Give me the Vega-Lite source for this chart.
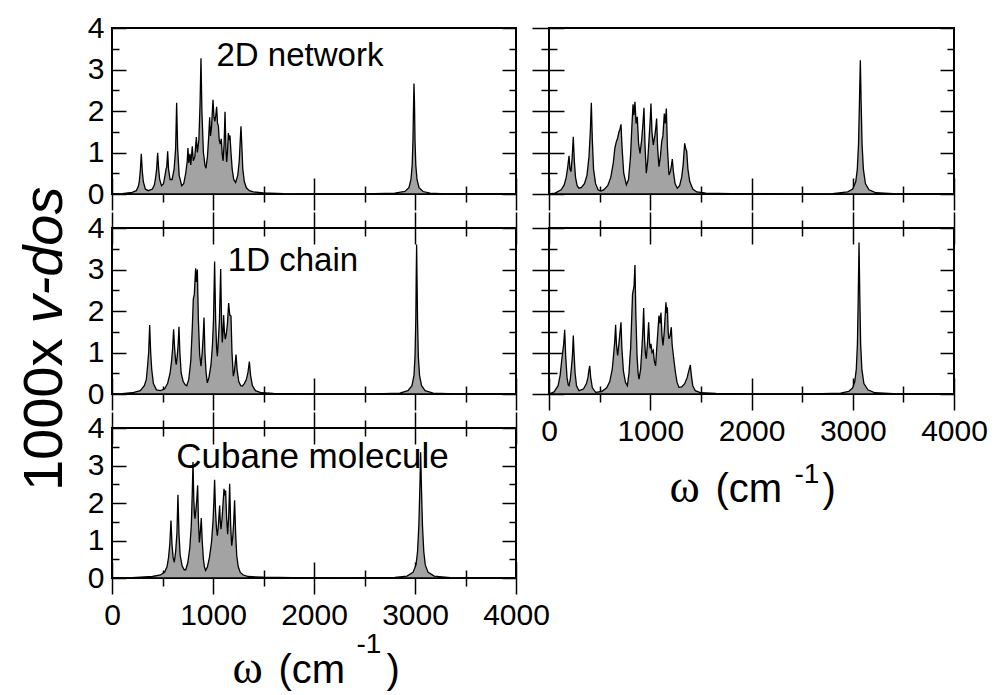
{
"$schema": "https://vega.github.io/schema/vega-lite/v6.json",
"padding": {"left": 14, "top": 12, "right": 0, "bottom": 0},
"background": "white",
"config": {
  "view": {"stroke": "black", "strokeWidth": 2},
  "axis": {"grid": false, "domain": false, "tickColor": "black", "tickWidth": 1.5, "labelColor": "black", "labelFont": "Liberation Sans", "labelFontSize": 30, "labelFlush": false, "labelOverlap": false, "format": "d", "titleColor": "black", "titleFontWeight": "normal", "titleFont": "Liberation Sans"}
},
"datasets": {
"a": [{"w":0,"d":0},{"w":100,"d":0.01},{"w":200,"d":0.04},{"w":240,"d":0.08},{"w":260,"d":0.18},{"w":270,"d":0.3},{"w":280,"d":0.55},{"w":290,"d":0.97},{"w":300,"d":0.55},{"w":310,"d":0.3},{"w":330,"d":0.12},{"w":360,"d":0.08},{"w":400,"d":0.12},{"w":420,"d":0.22},{"w":432,"d":0.4},{"w":442,"d":0.6},{"w":452,"d":0.99},{"w":462,"d":0.6},{"w":472,"d":0.35},{"w":490,"d":0.2},{"w":510,"d":0.25},{"w":525,"d":0.45},{"w":535,"d":0.6},{"w":542,"d":0.65},{"w":551,"d":1.03},{"w":560,"d":0.6},{"w":575,"d":0.35},{"w":595,"d":0.35},{"w":615,"d":0.6},{"w":630,"d":1.1},{"w":640,"d":2.2},{"w":650,"d":1.1},{"w":665,"d":0.45},{"w":690,"d":0.2},{"w":710,"d":0.25},{"w":730,"d":0.5},{"w":745,"d":0.8},{"w":752,"d":1.11},{"w":760,"d":0.75},{"w":772,"d":0.97},{"w":780,"d":0.7},{"w":795,"d":1.15},{"w":805,"d":0.8},{"w":820,"d":0.9},{"w":835,"d":1.37},{"w":845,"d":1.0},{"w":860,"d":1.3},{"w":872,"d":2.2},{"w":881,"d":3.27},{"w":890,"d":2.0},{"w":905,"d":1.0},{"w":920,"d":0.7},{"w":930,"d":0.62},{"w":945,"d":0.9},{"w":958,"d":1.4},{"w":967,"d":1.85},{"w":975,"d":1.4},{"w":985,"d":1.6},{"w":1000,"d":2.27},{"w":1010,"d":1.85},{"w":1018,"d":1.75},{"w":1028,"d":1.9},{"w":1036,"d":2.1},{"w":1045,"d":1.7},{"w":1053,"d":1.65},{"w":1062,"d":1.3},{"w":1072,"d":1.2},{"w":1082,"d":1.33},{"w":1092,"d":0.95},{"w":1100,"d":0.8},{"w":1110,"d":1.2},{"w":1119,"d":1.98},{"w":1128,"d":1.1},{"w":1135,"d":0.77},{"w":1143,"d":1.0},{"w":1152,"d":1.47},{"w":1160,"d":1.3},{"w":1168,"d":1.41},{"w":1178,"d":1.0},{"w":1190,"d":0.6},{"w":1205,"d":0.35},{"w":1224,"d":0.28},{"w":1245,"d":0.45},{"w":1260,"d":0.8},{"w":1270,"d":1.3},{"w":1277,"d":1.63},{"w":1285,"d":1.2},{"w":1295,"d":0.6},{"w":1310,"d":0.3},{"w":1330,"d":0.15},{"w":1360,"d":0.08},{"w":1400,"d":0.05},{"w":1500,"d":0.025},{"w":1700,"d":0.01},{"w":2000,"d":0.005},{"w":2500,"d":0.005},{"w":2800,"d":0.02},{"w":2900,"d":0.06},{"w":2940,"d":0.15},{"w":2960,"d":0.35},{"w":2972,"d":0.7},{"w":2980,"d":1.3},{"w":2986,"d":2.2},{"w":2990,"d":2.66},{"w":2995,"d":2.2},{"w":3000,"d":1.3},{"w":3008,"d":0.7},{"w":3020,"d":0.35},{"w":3040,"d":0.15},{"w":3080,"d":0.06},{"w":3150,"d":0.02},{"w":3300,"d":0.005},{"w":4000,"d":0}],
"b": [{"w":0,"d":0},{"w":100,"d":0.01},{"w":200,"d":0.03},{"w":280,"d":0.08},{"w":320,"d":0.2},{"w":340,"d":0.35},{"w":353,"d":0.7},{"w":363,"d":1.0},{"w":373,"d":1.66},{"w":383,"d":1.0},{"w":393,"d":0.6},{"w":410,"d":0.25},{"w":440,"d":0.1},{"w":480,"d":0.08},{"w":520,"d":0.12},{"w":550,"d":0.25},{"w":575,"d":0.5},{"w":590,"d":0.8},{"w":600,"d":1.1},{"w":610,"d":1.56},{"w":620,"d":1.1},{"w":630,"d":0.8},{"w":637,"d":0.71},{"w":647,"d":0.95},{"w":655,"d":1.2},{"w":663,"d":1.62},{"w":672,"d":1.0},{"w":685,"d":0.5},{"w":705,"d":0.3},{"w":725,"d":0.22},{"w":740,"d":0.2},{"w":760,"d":0.35},{"w":780,"d":0.8},{"w":795,"d":1.6},{"w":805,"d":2.29},{"w":815,"d":2.4},{"w":828,"d":3.03},{"w":836,"d":2.7},{"w":845,"d":3.0},{"w":855,"d":1.8},{"w":868,"d":0.95},{"w":881,"d":0.67},{"w":893,"d":1.0},{"w":903,"d":1.4},{"w":911,"d":1.84},{"w":920,"d":1.0},{"w":932,"d":0.5},{"w":944,"d":0.27},{"w":960,"d":0.4},{"w":980,"d":0.7},{"w":995,"d":1.2},{"w":1005,"d":1.8},{"w":1016,"d":3.19},{"w":1026,"d":1.8},{"w":1036,"d":1.1},{"w":1043,"d":0.91},{"w":1053,"d":1.3},{"w":1064,"d":1.8},{"w":1076,"d":3.01},{"w":1085,"d":1.7},{"w":1092,"d":1.24},{"w":1099,"d":1.5},{"w":1105,"d":1.9},{"w":1113,"d":1.5},{"w":1122,"d":1.32},{"w":1132,"d":1.45},{"w":1143,"d":1.7},{"w":1155,"d":2.19},{"w":1166,"d":1.9},{"w":1178,"d":1.88},{"w":1188,"d":1.0},{"w":1201,"d":0.43},{"w":1212,"d":0.55},{"w":1220,"d":0.75},{"w":1228,"d":0.95},{"w":1238,"d":0.6},{"w":1255,"d":0.3},{"w":1275,"d":0.2},{"w":1290,"d":0.19},{"w":1310,"d":0.25},{"w":1330,"d":0.35},{"w":1345,"d":0.5},{"w":1360,"d":0.78},{"w":1372,"d":0.45},{"w":1390,"d":0.2},{"w":1420,"d":0.08},{"w":1480,"d":0.03},{"w":1600,"d":0.015},{"w":2000,"d":0.005},{"w":2600,"d":0.005},{"w":2850,"d":0.02},{"w":2930,"d":0.08},{"w":2970,"d":0.2},{"w":2990,"d":0.45},{"w":3000,"d":0.9},{"w":3008,"d":1.8},{"w":3012,"d":2.8},{"w":3016,"d":3.6},{"w":3020,"d":2.8},{"w":3025,"d":1.8},{"w":3033,"d":0.9},{"w":3045,"d":0.45},{"w":3065,"d":0.2},{"w":3100,"d":0.08},{"w":3180,"d":0.02},{"w":3400,"d":0.005},{"w":4000,"d":0}],
"c": [{"w":0,"d":0},{"w":200,"d":0.01},{"w":400,"d":0.04},{"w":480,"d":0.08},{"w":520,"d":0.15},{"w":545,"d":0.3},{"w":560,"d":0.55},{"w":572,"d":0.9},{"w":584,"d":1.53},{"w":594,"d":0.9},{"w":605,"d":0.55},{"w":617,"d":0.42},{"w":630,"d":0.7},{"w":643,"d":1.2},{"w":653,"d":2.22},{"w":663,"d":1.2},{"w":675,"d":0.6},{"w":695,"d":0.32},{"w":715,"d":0.22},{"w":730,"d":0.22},{"w":750,"d":0.4},{"w":770,"d":0.8},{"w":785,"d":1.4},{"w":794,"d":2.2},{"w":802,"d":3.09},{"w":810,"d":2.1},{"w":816,"d":1.7},{"w":822,"d":1.58},{"w":830,"d":1.8},{"w":840,"d":2.1},{"w":848,"d":2.47},{"w":856,"d":1.5},{"w":865,"d":0.95},{"w":874,"d":1.2},{"w":884,"d":1.6},{"w":893,"d":1.0},{"w":905,"d":0.5},{"w":915,"d":0.3},{"w":927,"d":0.2},{"w":945,"d":0.3},{"w":965,"d":0.55},{"w":985,"d":0.95},{"w":1000,"d":1.5},{"w":1008,"d":2.0},{"w":1016,"d":2.62},{"w":1025,"d":1.8},{"w":1035,"d":1.3},{"w":1043,"d":1.13},{"w":1053,"d":1.4},{"w":1060,"d":1.7},{"w":1066,"d":1.93},{"w":1072,"d":1.5},{"w":1079,"d":1.3},{"w":1090,"d":1.6},{"w":1100,"d":2.0},{"w":1109,"d":2.38},{"w":1117,"d":2.2},{"w":1125,"d":2.33},{"w":1135,"d":1.6},{"w":1145,"d":1.17},{"w":1155,"d":1.6},{"w":1165,"d":2.51},{"w":1175,"d":1.4},{"w":1185,"d":0.86},{"w":1196,"d":1.1},{"w":1205,"d":1.5},{"w":1214,"d":2.07},{"w":1224,"d":1.2},{"w":1235,"d":0.6},{"w":1250,"d":0.3},{"w":1270,"d":0.15},{"w":1300,"d":0.08},{"w":1350,"d":0.04},{"w":1500,"d":0.02},{"w":1800,"d":0.008},{"w":2300,"d":0.005},{"w":2800,"d":0.015},{"w":2920,"d":0.05},{"w":2980,"d":0.15},{"w":3010,"d":0.35},{"w":3025,"d":0.7},{"w":3038,"d":1.4},{"w":3048,"d":2.4},{"w":3056,"d":3.35},{"w":3064,"d":2.4},{"w":3074,"d":1.4},{"w":3087,"d":0.7},{"w":3102,"d":0.35},{"w":3130,"d":0.15},{"w":3190,"d":0.05},{"w":3350,"d":0.01},{"w":4000,"d":0}],
"e": [{"w":0,"d":0},{"w":60,"d":0.02},{"w":120,"d":0.1},{"w":150,"d":0.22},{"w":170,"d":0.4},{"w":185,"d":0.65},{"w":198,"d":0.92},{"w":207,"d":0.6},{"w":217,"d":0.54},{"w":228,"d":0.85},{"w":240,"d":1.38},{"w":250,"d":0.8},{"w":262,"d":0.4},{"w":278,"d":0.2},{"w":296,"d":0.14},{"w":320,"d":0.16},{"w":350,"d":0.25},{"w":375,"d":0.45},{"w":395,"d":0.9},{"w":408,"d":1.5},{"w":418,"d":2.2},{"w":428,"d":1.3},{"w":440,"d":0.6},{"w":460,"d":0.25},{"w":485,"d":0.1},{"w":510,"d":0.07},{"w":540,"d":0.1},{"w":580,"d":0.2},{"w":610,"d":0.4},{"w":635,"d":0.75},{"w":650,"d":1.1},{"w":665,"d":1.26},{"w":678,"d":1.35},{"w":691,"d":1.5},{"w":700,"d":1.55},{"w":711,"d":1.68},{"w":722,"d":1.1},{"w":738,"d":0.5},{"w":764,"d":0.22},{"w":785,"d":0.35},{"w":805,"d":0.9},{"w":818,"d":1.6},{"w":830,"d":2.16},{"w":838,"d":1.9},{"w":849,"d":2.22},{"w":860,"d":1.7},{"w":872,"d":1.86},{"w":885,"d":1.2},{"w":899,"d":0.98},{"w":915,"d":1.3},{"w":928,"d":1.7},{"w":938,"d":2.08},{"w":948,"d":1.2},{"w":961,"d":0.5},{"w":975,"d":0.8},{"w":990,"d":1.4},{"w":1000,"d":1.8},{"w":1007,"d":2.18},{"w":1017,"d":1.5},{"w":1030,"d":1.18},{"w":1045,"d":1.4},{"w":1055,"d":1.6},{"w":1063,"d":1.82},{"w":1073,"d":1.1},{"w":1086,"d":0.66},{"w":1100,"d":0.9},{"w":1113,"d":1.26},{"w":1125,"d":1.4},{"w":1139,"d":1.94},{"w":1148,"d":1.7},{"w":1159,"d":2.06},{"w":1170,"d":1.1},{"w":1185,"d":0.46},{"w":1200,"d":0.55},{"w":1210,"d":0.7},{"w":1218,"d":0.84},{"w":1228,"d":0.55},{"w":1245,"d":0.25},{"w":1267,"d":0.14},{"w":1290,"d":0.2},{"w":1310,"d":0.4},{"w":1325,"d":0.7},{"w":1340,"d":1.22},{"w":1350,"d":1.1},{"w":1360,"d":1.03},{"w":1372,"d":0.6},{"w":1390,"d":0.3},{"w":1420,"d":0.12},{"w":1460,"d":0.05},{"w":1550,"d":0.02},{"w":1800,"d":0.008},{"w":2300,"d":0.004},{"w":2800,"d":0.01},{"w":2950,"d":0.05},{"w":3000,"d":0.12},{"w":3030,"d":0.3},{"w":3045,"d":0.6},{"w":3057,"d":1.2},{"w":3066,"d":2.2},{"w":3075,"d":3.22},{"w":3083,"d":2.2},{"w":3092,"d":1.2},{"w":3105,"d":0.6},{"w":3125,"d":0.25},{"w":3160,"d":0.1},{"w":3230,"d":0.03},{"w":3400,"d":0.008},{"w":4000,"d":0}],
"f": [{"w":0,"d":0},{"w":50,"d":0.05},{"w":90,"d":0.2},{"w":110,"d":0.45},{"w":125,"d":0.8},{"w":135,"d":1.0},{"w":145,"d":1.2},{"w":155,"d":1.55},{"w":165,"d":0.9},{"w":178,"d":0.4},{"w":190,"d":0.22},{"w":198,"d":0.2},{"w":210,"d":0.35},{"w":222,"d":0.65},{"w":232,"d":0.95},{"w":240,"d":1.41},{"w":248,"d":0.95},{"w":258,"d":0.5},{"w":272,"d":0.2},{"w":296,"d":0.08},{"w":340,"d":0.12},{"w":370,"d":0.25},{"w":385,"d":0.4},{"w":393,"d":0.55},{"w":402,"d":0.68},{"w":412,"d":0.4},{"w":428,"d":0.15},{"w":461,"d":0.04},{"w":520,"d":0.06},{"w":570,"d":0.15},{"w":600,"d":0.3},{"w":625,"d":0.6},{"w":640,"d":1.0},{"w":650,"d":1.3},{"w":658,"d":1.67},{"w":666,"d":1.2},{"w":678,"d":0.93},{"w":690,"d":1.2},{"w":700,"d":1.45},{"w":711,"d":1.73},{"w":720,"d":1.1},{"w":735,"d":0.55},{"w":755,"d":0.28},{"w":774,"d":0.2},{"w":790,"d":0.5},{"w":800,"d":0.9},{"w":806,"d":1.09},{"w":815,"d":1.7},{"w":825,"d":2.4},{"w":840,"d":2.6},{"w":849,"d":3.11},{"w":858,"d":1.9},{"w":870,"d":0.9},{"w":880,"d":0.5},{"w":889,"d":0.36},{"w":905,"d":0.6},{"w":920,"d":1.2},{"w":928,"d":1.6},{"w":935,"d":2.07},{"w":944,"d":1.3},{"w":953,"d":0.95},{"w":961,"d":0.85},{"w":972,"d":1.2},{"w":984,"d":1.73},{"w":994,"d":1.2},{"w":1000,"d":1.1},{"w":1007,"d":1.21},{"w":1018,"d":1.0},{"w":1030,"d":1.05},{"w":1040,"d":0.8},{"w":1053,"d":0.68},{"w":1064,"d":1.1},{"w":1075,"d":1.5},{"w":1086,"d":1.89},{"w":1096,"d":1.7},{"w":1106,"d":1.96},{"w":1116,"d":1.4},{"w":1126,"d":1.17},{"w":1138,"d":1.5},{"w":1148,"d":1.9},{"w":1155,"d":2.21},{"w":1162,"d":1.95},{"w":1169,"d":2.09},{"w":1177,"d":1.5},{"w":1185,"d":1.33},{"w":1196,"d":1.4},{"w":1208,"d":1.61},{"w":1216,"d":1.2},{"w":1225,"d":1.0},{"w":1237,"d":0.75},{"w":1250,"d":0.5},{"w":1265,"d":0.28},{"w":1284,"d":0.16},{"w":1310,"d":0.17},{"w":1340,"d":0.25},{"w":1365,"d":0.4},{"w":1380,"d":0.55},{"w":1396,"d":0.7},{"w":1406,"d":0.45},{"w":1420,"d":0.2},{"w":1445,"d":0.08},{"w":1500,"d":0.03},{"w":1650,"d":0.012},{"w":2000,"d":0.005},{"w":2600,"d":0.005},{"w":2880,"d":0.02},{"w":2960,"d":0.06},{"w":3000,"d":0.15},{"w":3020,"d":0.3},{"w":3035,"d":0.6},{"w":3046,"d":1.2},{"w":3054,"d":2.3},{"w":3062,"d":3.65},{"w":3070,"d":2.3},{"w":3078,"d":1.2},{"w":3090,"d":0.6},{"w":3110,"d":0.25},{"w":3150,"d":0.1},{"w":3220,"d":0.03},{"w":3400,"d":0.008},{"w":4000,"d":0}]
},
"bounds": "flush",
"columns": 2,
"spacing": {"row": 34, "column": 33},
"concat": [
 {"width": 404, "height": 166, "data": {"name": "a"},
  "resolve": {"axis": {"x": "independent", "y": "independent"}},
  "layer": [
   {"mark": {"type": "area", "fill": "#a3a3a3", "stroke": "black", "strokeWidth": 1.3},
    "encoding": {"x": {"field": "w", "type": "quantitative", "scale": {"domain": [0, 4000], "nice": false, "zero": false}, "axis": {"orient": "bottom", "values": [0,1000,2000,3000,4000], "tickSize": 32, "offset": -16, "labels": false, "title": null}},
                 "y": {"field": "d", "type": "quantitative", "scale": {"domain": [0, 4], "nice": false}, "axis": {"orient": "left", "values": [0,1,2,3,4], "tickSize": 14, "offset": -14, "labelPadding": 8, "title": null}}}},
   {"mark": {"type": "line", "strokeOpacity": 0},
    "encoding": {"x": {"field": "w", "type": "quantitative", "axis": {"orient": "bottom", "values": [500,1500,2500,3500], "tickSize": 16, "offset": -8, "labels": false, "title": null}},
                 "y": {"field": "d", "type": "quantitative", "axis": {"orient": "left", "values": [0.5,1.5,2.5,3.5], "tickSize": 7, "offset": -7, "labels": false, "title": null}}}},
   {"mark": {"type": "line", "strokeOpacity": 0},
    "encoding": {"x": {"field": "w", "type": "quantitative", "axis": null},
                 "y": {"field": "d", "type": "quantitative", "axis": {"orient": "right", "values": [0,1,2,3,4], "tickSize": 14, "offset": -14, "labels": false, "title": null}}}},
   {"mark": {"type": "line", "strokeOpacity": 0},
    "encoding": {"x": {"field": "w", "type": "quantitative", "axis": null},
                 "y": {"field": "d", "type": "quantitative", "axis": {"orient": "right", "values": [0.5,1.5,2.5,3.5], "tickSize": 7, "offset": -7, "labels": false, "title": null}}}},
   {"data": {"values": [{"t": "2D network", "w": 1861, "d": 3.09}]},
    "mark": {"type": "text", "font": "Liberation Sans", "fontSize": 33, "align": "center", "baseline": "alphabetic", "color": "black"},
    "encoding": {"x": {"field": "w", "type": "quantitative", "axis": null}, "y": {"field": "d", "type": "quantitative", "axis": null}, "text": {"field": "t"}}}
  ]},
 {"width": 405, "height": 166, "data": {"name": "e"},
  "resolve": {"axis": {"x": "independent", "y": "independent"}},
  "layer": [
   {"mark": {"type": "area", "fill": "#a3a3a3", "stroke": "black", "strokeWidth": 1.3},
    "encoding": {"x": {"field": "w", "type": "quantitative", "scale": {"domain": [0, 4000], "nice": false, "zero": false}, "axis": {"orient": "bottom", "values": [0,1000,2000,3000,4000], "tickSize": 32, "offset": -16, "labels": false, "title": null}},
                 "y": {"field": "d", "type": "quantitative", "scale": {"domain": [0, 4], "nice": false}, "axis": {"orient": "left", "values": [0,1,2,3,4], "tickSize": 32, "offset": -15, "labels": false, "title": null}}}},
   {"mark": {"type": "line", "strokeOpacity": 0},
    "encoding": {"x": {"field": "w", "type": "quantitative", "axis": {"orient": "bottom", "values": [500,1500,2500,3500], "tickSize": 16, "offset": -8, "labels": false, "title": null}},
                 "y": {"field": "d", "type": "quantitative", "axis": {"orient": "left", "values": [0.5,1.5,2.5,3.5], "tickSize": 16, "offset": -8, "labels": false, "title": null}}}},
   {"mark": {"type": "line", "strokeOpacity": 0},
    "encoding": {"x": {"field": "w", "type": "quantitative", "axis": null},
                 "y": {"field": "d", "type": "quantitative", "axis": {"orient": "right", "values": [0,1,2,3,4], "tickSize": 14, "offset": -14, "labels": false, "title": null}}}},
   {"mark": {"type": "line", "strokeOpacity": 0},
    "encoding": {"x": {"field": "w", "type": "quantitative", "axis": null},
                 "y": {"field": "d", "type": "quantitative", "axis": {"orient": "right", "values": [0.5,1.5,2.5,3.5], "tickSize": 7, "offset": -7, "labels": false, "title": null}}}}
  ]},
 {"width": 404, "height": 166, "data": {"name": "b"},
  "resolve": {"axis": {"x": "independent", "y": "independent"}},
  "layer": [
   {"mark": {"type": "area", "fill": "#a3a3a3", "stroke": "black", "strokeWidth": 1.3},
    "encoding": {"x": {"field": "w", "type": "quantitative", "scale": {"domain": [0, 4000], "nice": false, "zero": false}, "axis": {"orient": "bottom", "values": [0,1000,2000,3000,4000], "tickSize": 32, "offset": -16, "labels": false, "title": null}},
                 "y": {"field": "d", "type": "quantitative", "scale": {"domain": [0, 4], "nice": false}, "axis": {"orient": "left", "values": [0,1,2,3,4], "tickSize": 14, "offset": -14, "labelPadding": 8, "title": "1000x", "titleFontSize": 56, "titleAngle": 270, "titleAlign": "right", "titleBaseline": "alphabetic", "titleX": -65, "titleY": 110}}}},
   {"mark": {"type": "line", "strokeOpacity": 0},
    "encoding": {"x": {"field": "w", "type": "quantitative", "axis": {"orient": "bottom", "values": [500,1500,2500,3500], "tickSize": 16, "offset": -8, "labels": false, "title": null}},
                 "y": {"field": "d", "type": "quantitative", "axis": {"orient": "left", "values": [0.5,1.5,2.5,3.5], "tickSize": 7, "offset": -7, "labels": false, "title": "v-dos", "titleFontSize": 56, "titleFontStyle": "italic", "titleAngle": 270, "titleAlign": "left", "titleBaseline": "alphabetic", "titleX": -58, "titleY": 95}}}},
   {"mark": {"type": "line", "strokeOpacity": 0},
    "encoding": {"x": {"field": "w", "type": "quantitative", "axis": {"orient": "top", "values": [0,1000,2000,3000,4000], "tickSize": 32, "offset": -16, "labels": false, "title": null}},
                 "y": {"field": "d", "type": "quantitative", "axis": {"orient": "right", "values": [0,1,2,3,4], "tickSize": 14, "offset": -14, "labels": false, "title": null}}}},
   {"mark": {"type": "line", "strokeOpacity": 0},
    "encoding": {"x": {"field": "w", "type": "quantitative", "axis": {"orient": "top", "values": [500,1500,2500,3500], "tickSize": 16, "offset": -8, "labels": false, "title": null}},
                 "y": {"field": "d", "type": "quantitative", "axis": {"orient": "right", "values": [0.5,1.5,2.5,3.5], "tickSize": 7, "offset": -7, "labels": false, "title": null}}}},
   {"data": {"values": [{"t": "1D chain", "w": 1792, "d": 2.96}]},
    "mark": {"type": "text", "font": "Liberation Sans", "fontSize": 33, "align": "center", "baseline": "alphabetic", "color": "black"},
    "encoding": {"x": {"field": "w", "type": "quantitative", "axis": null}, "y": {"field": "d", "type": "quantitative", "axis": null}, "text": {"field": "t"}}}
  ]},
 {"width": 405, "height": 166, "data": {"name": "f"},
  "resolve": {"axis": {"x": "independent", "y": "independent"}},
  "layer": [
   {"mark": {"type": "area", "fill": "#a3a3a3", "stroke": "black", "strokeWidth": 1.3},
    "encoding": {"x": {"field": "w", "type": "quantitative", "scale": {"domain": [0, 4000], "nice": false, "zero": false}, "axis": {"orient": "bottom", "values": [0,1000,2000,3000,4000], "tickSize": 32, "offset": -16, "labels": true, "labelPadding": 6, "title": "(cm", "titleFontSize": 40, "titleAlign": "left", "titleBaseline": "alphabetic", "titleX": 166, "titleY": 123}},
                 "y": {"field": "d", "type": "quantitative", "scale": {"domain": [0, 4], "nice": false}, "axis": {"orient": "left", "values": [0,1,2,3,4], "tickSize": 32, "offset": -15, "labels": false, "title": null}}}},
   {"mark": {"type": "line", "strokeOpacity": 0},
    "encoding": {"x": {"field": "w", "type": "quantitative", "axis": {"orient": "bottom", "values": [500,1500,2500,3500], "tickSize": 16, "offset": -8, "labels": false, "title": "-1", "titleFontSize": 28, "titleAlign": "left", "titleBaseline": "alphabetic", "titleX": 245, "titleY": 96}},
                 "y": {"field": "d", "type": "quantitative", "axis": {"orient": "left", "values": [0.5,1.5,2.5,3.5], "tickSize": 16, "offset": -8, "labels": false, "title": null}}}},
   {"mark": {"type": "line", "strokeOpacity": 0},
    "encoding": {"x": {"field": "w", "type": "quantitative", "axis": {"orient": "top", "values": [0,1000,2000,3000,4000], "tickSize": 32, "offset": -16, "labels": false, "title": ")", "titleFontSize": 40, "titleAlign": "left", "titleBaseline": "alphabetic", "titleX": 273, "titleY": 257}},
                 "y": {"field": "d", "type": "quantitative", "axis": {"orient": "right", "values": [0,1,2,3,4], "tickSize": 14, "offset": -14, "labels": false, "title": null}}}},
   {"mark": {"type": "line", "strokeOpacity": 0},
    "encoding": {"x": {"field": "w", "type": "quantitative", "axis": {"orient": "top", "values": [500,1500,2500,3500], "tickSize": 16, "offset": -8, "labels": false, "title": "ω", "titleFont": "Liberation Serif", "titleFontSize": 46, "titleAlign": "left", "titleBaseline": "alphabetic", "titleX": 120, "titleY": 265}},
                 "y": {"field": "d", "type": "quantitative", "axis": {"orient": "right", "values": [0.5,1.5,2.5,3.5], "tickSize": 7, "offset": -7, "labels": false, "title": null}}}}
  ]},
 {"width": 404, "height": 150, "data": {"name": "c"},
  "resolve": {"axis": {"x": "independent", "y": "independent"}},
  "layer": [
   {"mark": {"type": "area", "fill": "#a3a3a3", "stroke": "black", "strokeWidth": 1.3},
    "encoding": {"x": {"field": "w", "type": "quantitative", "scale": {"domain": [0, 4000], "nice": false, "zero": false}, "axis": {"orient": "bottom", "values": [0,1000,2000,3000,4000], "tickSize": 32, "offset": -16, "labels": true, "labelPadding": 6, "title": "(cm", "titleFontSize": 40, "titleAlign": "left", "titleBaseline": "alphabetic", "titleX": 166, "titleY": 120}},
                 "y": {"field": "d", "type": "quantitative", "scale": {"domain": [0, 4], "nice": false}, "axis": {"orient": "left", "values": [0,1,2,3,4], "tickSize": 14, "offset": -14, "labelPadding": 8, "title": null}}}},
   {"mark": {"type": "line", "strokeOpacity": 0},
    "encoding": {"x": {"field": "w", "type": "quantitative", "axis": {"orient": "bottom", "values": [500,1500,2500,3500], "tickSize": 16, "offset": -8, "labels": false, "title": "-1", "titleFontSize": 28, "titleAlign": "left", "titleBaseline": "alphabetic", "titleX": 244, "titleY": 82}},
                 "y": {"field": "d", "type": "quantitative", "axis": {"orient": "left", "values": [0.5,1.5,2.5,3.5], "tickSize": 7, "offset": -7, "labels": false, "title": null}}}},
   {"mark": {"type": "line", "strokeOpacity": 0},
    "encoding": {"x": {"field": "w", "type": "quantitative", "axis": {"orient": "top", "values": [0,1000,2000,3000,4000], "tickSize": 32, "offset": -16, "labels": false, "title": ")", "titleFontSize": 40, "titleAlign": "left", "titleBaseline": "alphabetic", "titleX": 274, "titleY": 238}},
                 "y": {"field": "d", "type": "quantitative", "axis": {"orient": "right", "values": [0,1,2,3,4], "tickSize": 14, "offset": -14, "labels": false, "title": null}}}},
   {"mark": {"type": "line", "strokeOpacity": 0},
    "encoding": {"x": {"field": "w", "type": "quantitative", "axis": {"orient": "top", "values": [500,1500,2500,3500], "tickSize": 16, "offset": -8, "labels": false, "title": "ω", "titleFont": "Liberation Serif", "titleFontSize": 46, "titleAlign": "left", "titleBaseline": "alphabetic", "titleX": 120, "titleY": 246}},
                 "y": {"field": "d", "type": "quantitative", "axis": {"orient": "right", "values": [0.5,1.5,2.5,3.5], "tickSize": 7, "offset": -7, "labels": false, "title": null}}}},
   {"data": {"values": [{"t": "Cubane molecule", "w": 1985, "d": 2.93}]},
    "mark": {"type": "text", "font": "Liberation Sans", "fontSize": 35, "align": "center", "baseline": "alphabetic", "color": "black"},
    "encoding": {"x": {"field": "w", "type": "quantitative", "axis": null}, "y": {"field": "d", "type": "quantitative", "axis": null}, "text": {"field": "t"}}}
  ]}
]
}
